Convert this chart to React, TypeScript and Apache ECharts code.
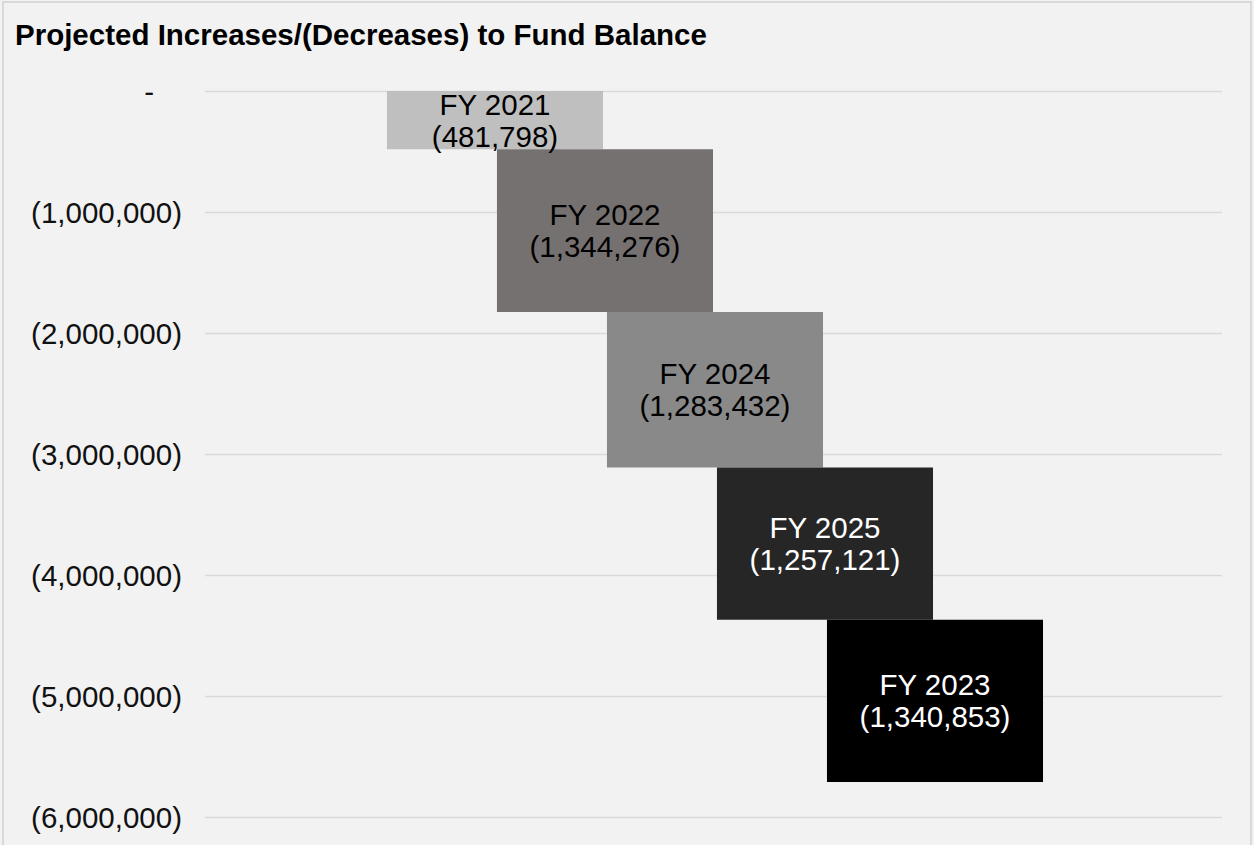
import React, { useEffect, useRef } from "react";
import * as echarts from "echarts";

const categories = ["FY 2021", "FY 2022", "FY 2024", "FY 2025", "FY 2023"];
const changes = [-481798, -1344276, -1283432, -1257121, -1340853];
const barColors = ["#bfbfbf", "#767171", "#898989", "#262626", "#000000"];
const labelColors = ["#000000", "#000000", "#000000", "#ffffff", "#ffffff"];
const yMin = -6000000;
const yMax = 0;
const yInterval = 1000000;
const titleText = "Projected Increases/(Decreases) to Fund Balance";

const FONT = "'Liberation Sans', Arial, sans-serif";
const BAR_SPAN = 1.964; // bar width in x-axis units (bars overlap neighbours)

function fmt(v: number): string {
  return Math.abs(v).toLocaleString("en-US");
}

export default function App() {
  const ref = useRef<HTMLDivElement>(null);
  useEffect(() => {
    if (!ref.current) return;
    const chart = echarts.init(ref.current, undefined, { renderer: "svg" });
    const rows: number[][] = [];
    let acc = 0;
    changes.forEach((c, i) => {
      rows.push([i + 1, acc, acc + c, i]);
      acc += c;
    });
    chart.setOption({
      animation: false,
      backgroundColor: "#f2f2f2",
      title: {
        text: titleText,
        left: 15,
        top: 19,
        padding: 0,
        textStyle: { fontFamily: FONT, fontSize: 29.5, fontWeight: "bold", color: "#000" },
      },
      graphic: [
        {
          type: "rect",
          shape: { x: 3, y: 2, width: 1248, height: 900 },
          style: { fill: "none", stroke: "#d9d9d9", lineWidth: 2 },
          silent: true,
        },
      ],
      grid: { left: 205, right: 32, top: 91, bottom: 27.5 },
      xAxis: { type: "value", min: -1.636, max: 7.609, show: false },
      yAxis: {
        type: "value",
        min: yMin,
        max: yMax,
        interval: yInterval,
        axisLine: { show: false },
        axisTick: { show: false },
        splitLine: { lineStyle: { color: "#d9d9d9", width: 1.3 } },
        axisLabel: {
          margin: 23,
          fontSize: 29.5,
          fontFamily: FONT,
          color: "#111",
          formatter: (v: number) => (v === 0 ? "{z|-}" : "(" + fmt(v) + ")"),
          rich: { z: { fontSize: 29.5, fontFamily: FONT, color: "#111", padding: [0, 28, 0, 0] } },
        },
      },
      series: [
        {
          type: "custom",
          data: rows,
          encode: { x: 0, y: [1, 2] },
          renderItem: (params: any, api: any) => {
            const x = api.value(0);
            const i = api.value(3);
            const top = api.coord([x, api.value(1)]);
            const bot = api.coord([x, api.value(2)]);
            const w = api.size([BAR_SPAN, 0])[0];
            return {
              type: "rect",
              shape: { x: top[0] - w / 2, y: top[1], width: w, height: bot[1] - top[1] },
              style: { fill: barColors[i] },
              textContent: {
                style: {
                  text: categories[i] + "\n(" + fmt(changes[i]) + ")",
                  fill: labelColors[i],
                  fontFamily: FONT,
                  fontSize: 29.5,
                  lineHeight: 32,
                  align: "center",
                },
              },
              textConfig: { position: "inside" },
            };
          },
        },
      ],
    });
    return () => chart.dispose();
  }, []);
  return (
    <div
      ref={ref}
      style={{ position: "fixed", left: 0, top: 0, width: 1254, height: 845, background: "#f2f2f2" }}
    />
  );
}
